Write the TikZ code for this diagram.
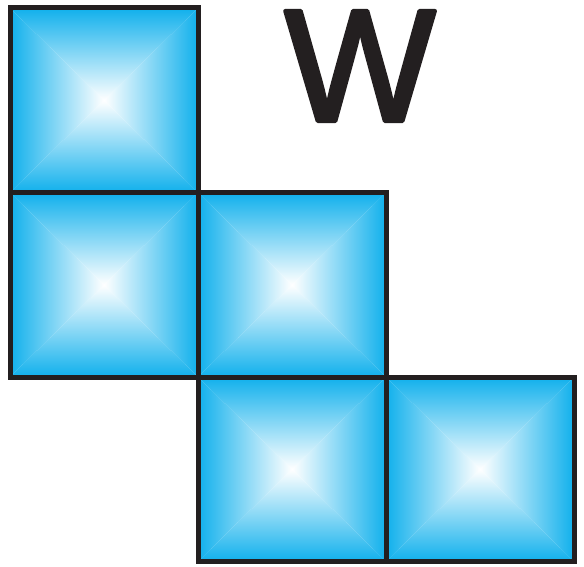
\documentclass[tikz,border=0pt]{standalone}
\usepackage{fontspec}
\newfontfamily\letterfont{Liberation Sans}
\usetikzlibrary{positioning}
\definecolor{tilecyan}{RGB}{16,176,236}
\definecolor{tileline}{RGB}{35,31,32}

\begin{document}
\begin{tikzpicture}[
  x=1pt, y=-1pt,
  tile/.style={draw=tileline, line width=5pt, minimum width=188pt, minimum height=184.5pt,
    inner sep=0pt, outer sep=0pt,
    path picture={
      \coordinate (nw) at (path picture bounding box.north west);
      \coordinate (ne) at (path picture bounding box.north east);
      \coordinate (sw) at (path picture bounding box.south west);
      \coordinate (se) at (path picture bounding box.south east);
      \coordinate (mid) at (path picture bounding box.center);
      \shade[top color=tilecyan, bottom color=white] (nw) -- (ne) -- (mid) -- cycle;
      \shade[bottom color=tilecyan, top color=white] (sw) -- (se) -- (mid) -- cycle;
      \shade[left color=tilecyan, right color=white] (nw) -- (sw) -- (mid) -- cycle;
      \shade[right color=tilecyan, left color=white] (ne) -- (se) -- (mid) -- cycle;
    }},
  every node/.style={font=\letterfont}
]
  \useasboundingbox (0,0) rectangle (584,567);

  \node[tile] (t1) at (104,100.25) {};
  \node[tile, below=0pt of t1] (t2) {};
  \node[tile, right=0pt of t2] (t3) {};
  \node[tile, below=0pt of t3] (t4) {};
  \node[tile, right=0pt of t4] (t5) {};

  % letter drawn filled and stroked, to get its rounded thick pen
  \node[anchor=base, text=tileline, font=\letterfont\fontsize{160}{160}\selectfont,
        inner sep=0pt] (label) at (360,121)
        {\special{pdf:literal 2 Tr 4 w 1 j 1 J}W\special{pdf:literal 0 Tr}};
\end{tikzpicture}
\end{document}
